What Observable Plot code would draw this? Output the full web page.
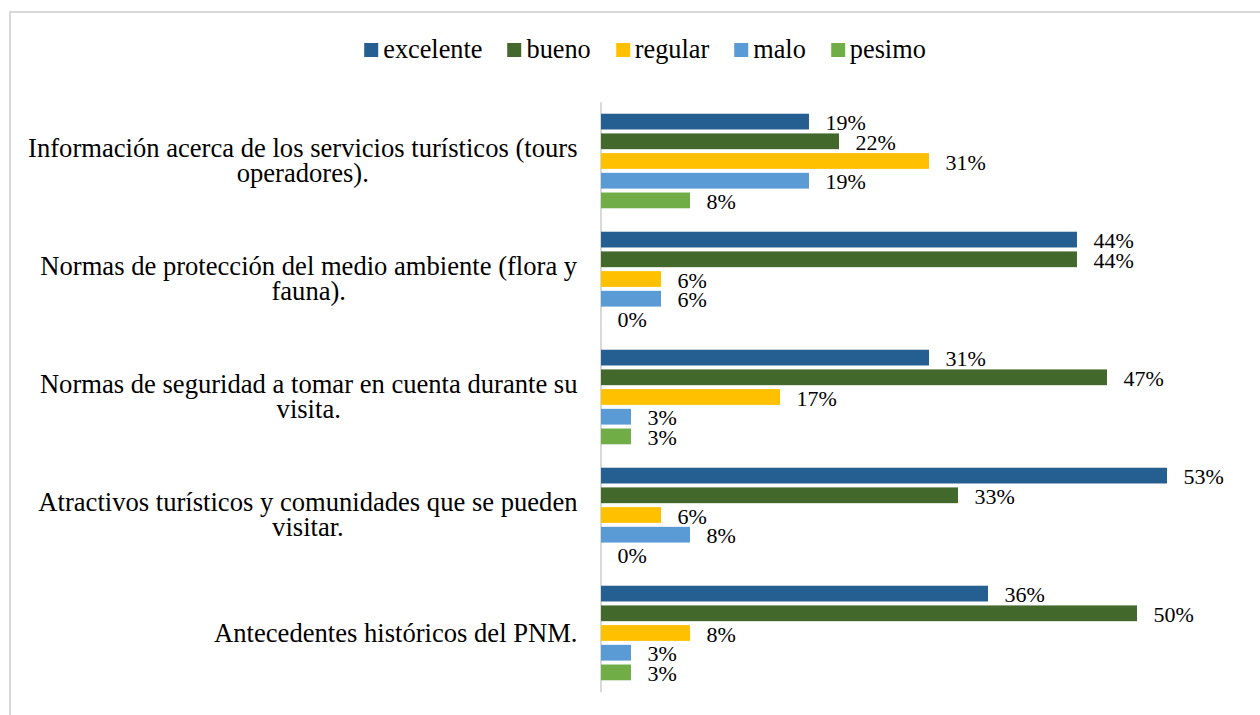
<!DOCTYPE html>
<html>
<head>
<meta charset="utf-8">
<script src="https://cdn.jsdelivr.net/npm/d3@7"></script>
<script src="https://cdn.jsdelivr.net/npm/@observablehq/plot@0.6"></script>
<style>
  html, body { margin: 0; padding: 0; background: #fff; overflow: hidden; font-family: "Liberation Serif", "DejaVu Serif", serif; }
  #wrap { position: relative; width: 1260px; height: 715px; overflow: hidden; font-family: "Liberation Serif", "DejaVu Serif", serif; }
  #border { position: absolute; left: 8.5px; top: 11px; width: 1300px; height: 800px; border: 2px solid #d9d9d9; box-sizing: border-box; }
  #legend { position: absolute; top: 50px; left: 645px; transform: translate(-50%, -50%); display: flex; align-items: center; white-space: nowrap; font-size: 26.3px; color: #000; font-family: "Liberation Serif", "DejaVu Serif", serif; }
  #legend .item { display: flex; align-items: center; margin-right: 25px; }
  #legend .item:last-child { margin-right: 0; }
  #legend .sw { width: 14px; height: 14px; margin-right: 5px; }
  #chart { position: absolute; left: 0; top: 0; }
  #chart svg text { font-family: "Liberation Serif", "DejaVu Serif", serif; }
</style>
</head>
<body>
<div id="wrap">
  <div id="border"></div>
  <div id="legend"></div>
  <div id="chart"></div>
</div>
<script>
const categories = [
  "Información acerca de los servicios turísticos (tours operadores).",
  "Normas de protección del medio ambiente (flora y fauna).",
  "Normas de seguridad a tomar en cuenta durante su visita.",
  "Atractivos turísticos y comunidades que se pueden visitar.",
  "Antecedentes históricos del PNM."
];
const categoryLabels = [
  "Información acerca de los servicios turísticos (tours\noperadores).",
  "Normas de protección del medio ambiente (flora y\nfauna).",
  "Normas de seguridad a tomar en cuenta durante su\nvisita.",
  "Atractivos turísticos y comunidades que se pueden\nvisitar.",
  "Antecedentes históricos del PNM."
];
const series = ["excelente", "bueno", "regular", "malo", "pesimo"];
const colors = ["#255e91", "#43682b", "#ffc000", "#5b9bd5", "#70ad47"];

// percentages (labels shown rounded)
const excelente = [19.4, 44.4, 30.6, 52.8, 36.1];
const bueno     = [22.2, 44.4, 47.2, 33.3, 50.0];
const regular   = [30.6, 5.6, 16.7, 5.6, 8.3];
const malo      = [19.4, 5.6, 2.8, 8.3, 2.8];
const pesimo    = [8.3, 0, 2.8, 0, 2.8];
const seriesValues = [excelente, bueno, regular, malo, pesimo];

const rows = [];
series.forEach((s, si) => categories.forEach((c, ci) => rows.push({category: c, series: s, si, value: seriesValues[si][ci]})));

const FONT = "'Liberation Serif', 'DejaVu Serif', serif";

// legend
const legend = document.getElementById("legend");
series.forEach((s, i) => {
  const item = document.createElement("div");
  item.className = "item";
  item.innerHTML = `<span class="sw" style="background:${colors[i]}"></span><span style="font-family:${FONT}">${s}</span>`;
  legend.appendChild(item);
});

const W = 1260, H = 715;
const step = 19.7;       // bar step inside a group
const barH = 15.76;
const bandH = 118;
const inset = (bandH - barH) / 2;

const marks = [Plot.ruleX([0], {stroke: "#d9d9d9", strokeWidth: 2, dx: -0.5})];
series.forEach((s, si) => {
  const data = rows.filter(d => d.si === si);
  marks.push(Plot.barX(data, {
    x: "value", y: "category", fill: "series",
    insetTop: inset, insetBottom: inset, dy: (si - 2) * step
  }));
});
series.forEach((s, si) => {
  const data = rows.filter(d => d.si === si);
  marks.push(Plot.text(data, {
    x: "value", y: "category", text: d => Math.round(d.value) + "%",
    dx: 16, dy: (si - 2) * step + 1, textAnchor: "start", fontSize: 22,
    fontFamily: FONT, fill: "#000"
  }));
});
marks.push(Plot.text(categories, {
  y: d => d, text: (d, i) => categoryLabels[i], frameAnchor: "left",
  textAnchor: "middle", fontSize: 26.6, lineHeight: 0.94, fontFamily: FONT, fill: "#000"
}));

const chart = Plot.plot({
  width: W, height: H,
  marginLeft: 601, marginRight: 15.8,
  marginTop: 102.25, marginBottom: 22.75,
  x: {domain: [0, 60], axis: null},
  y: {domain: categories, axis: null, padding: 0},
  color: {domain: series, range: colors},
  style: {fontFamily: FONT, background: "transparent", overflow: "visible"},
  marks
});
document.getElementById("chart").appendChild(chart);

// right-align each category label block at x≈577 while keeping its lines centered
const firstLines = categoryLabels.map(l => l.split("\n")[0]);
chart.querySelectorAll("text").forEach(t => {
  const txt = t.textContent;
  if (firstLines.some(f => txt.startsWith(f))) {
    const bb = t.getBBox();
    const m = /translate\(([^,]+),([^)]+)\)/.exec(t.getAttribute("transform") || "");
    const ty = m ? parseFloat(m[2]) : 0;
    t.setAttribute("transform", `translate(${577 - bb.width / 2},${ty})`);
  }
});
</script>
</body>
</html>
